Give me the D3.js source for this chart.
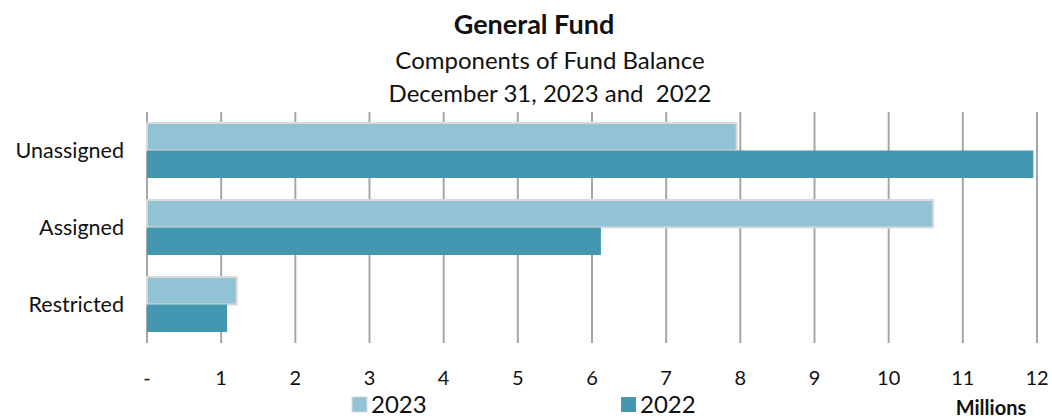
<!DOCTYPE html>
<html>
<head>
<meta charset="utf-8">
<script src="https://cdn.jsdelivr.net/npm/d3@7"></script>
<style>
  body { margin: 0; background: #fff; }
  text { font-family: Lato, "Open Sans", sans-serif; fill: #111; }
</style>
</head>
<body>
<div id="chart"></div>
<script>
// categories and values (millions)
const categories = ['Unassigned', 'Assigned', 'Restricted'];
const seriesNames = ['2023', '2022'];
const values2023 = [7.95, 10.6, 1.21];
const values2022 = [11.95, 6.12, 1.08];
const tickValues = [0, 1, 2, 3, 4, 5, 6, 7, 8, 9, 10, 11, 12];

const colors = { '2023': '#92c3d5', '2022': '#4397b0' };

const W = 1052, H = 418;
const margin = { top: 112, right: 15, bottom: 75, left: 147 };
const width = 1037 - margin.left;
const height = H - margin.top - margin.bottom;

const svg = d3.select('#chart').append('svg')
  .attr('width', W)
  .attr('height', H);

// titles
svg.append('text').attr('x', 534).attr('y', 34).attr('text-anchor', 'middle')
  .style('font-size', '27px').style('font-weight', 'bold').text('General Fund');
svg.append('text').attr('x', 550).attr('y', 69).attr('text-anchor', 'middle')
  .style('font-size', '24px').text('Components of Fund Balance');
svg.append('text').attr('x', 550).attr('y', 102).attr('text-anchor', 'middle')
  .style('font-size', '24px').style('white-space', 'pre').text('December 31, 2023 and  2022');

const g = svg.append('g').attr('transform', `translate(${margin.left},${margin.top})`);

const x = d3.scaleLinear().domain([0, 12]).range([0, width]);
const y = d3.scaleBand().domain(categories).range([0, height])
  .paddingInner(0.286).paddingOuter(0.143);
const ySub = d3.scaleBand().domain(seriesNames).range([0, y.bandwidth()]);

// gridlines
g.selectAll('.grid')
  .data(tickValues)
  .enter().append('line')
  .attr('x1', d => x(d)).attr('x2', d => x(d))
  .attr('y1', 0).attr('y2', height)
  .attr('stroke', '#a6a6a6')
  .attr('stroke-width', 2);

// bars
const rows = categories.map((c, i) => ({ cat: c, vals: [
  { s: '2023', v: values2023[i] },
  { s: '2022', v: values2022[i] }
] }));

const grp = g.selectAll('.cat')
  .data(rows)
  .enter().append('g')
  .attr('transform', d => `translate(0,${y(d.cat)})`);

grp.selectAll('rect')
  .data(d => d.vals)
  .enter().append('rect')
  .attr('x', 0)
  .attr('y', d => ySub(d.s))
  .attr('width', d => x(d.v))
  .attr('height', ySub.bandwidth())
  .attr('fill', d => colors[d.s])
  .attr('stroke', d => d.s === '2023' ? '#d9d9d9' : 'none')
  .attr('stroke-width', 2);

// category labels
g.selectAll('.cl')
  .data(categories)
  .enter().append('text')
  .attr('x', -23)
  .attr('y', d => y(d) + y.bandwidth() / 2)
  .attr('dy', '0.35em')
  .attr('text-anchor', 'end')
  .style('font-size', '21.5px')
  .text(d => d);

// x tick labels
g.selectAll('.tl')
  .data(tickValues)
  .enter().append('text')
  .attr('x', d => x(d))
  .attr('y', height + 42)
  .attr('text-anchor', 'middle')
  .style('font-size', '20px')
  .text(d => d === 0 ? '-' : d);

// legend
const legend = svg.append('g');
const legendX = { '2023': 352, '2022': 621 };
seriesNames.forEach(s => {
  legend.append('rect')
    .attr('x', legendX[s]).attr('y', 397)
    .attr('width', 15).attr('height', 15)
    .attr('fill', colors[s])
    .attr('stroke', s === '2023' ? '#d9d9d9' : 'none');
  legend.append('text')
    .attr('x', legendX[s] + 19).attr('y', 413)
    .style('font-size', '24px')
    .text(s);
});

svg.append('text').attr('x', 991).attr('y', 415).attr('text-anchor', 'middle')
  .style('font-size', '20px').style('font-weight', 'bold').text('Millions');
</script>
</body>
</html>
